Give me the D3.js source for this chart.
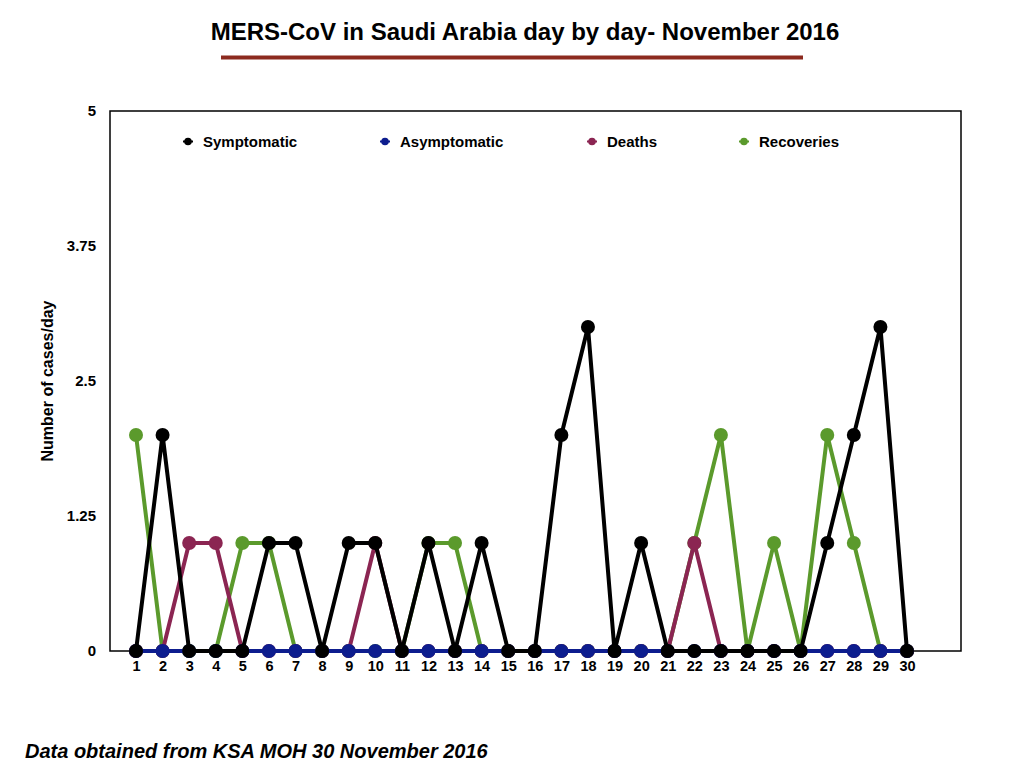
<!DOCTYPE html>
<html>
<head>
<meta charset="utf-8">
<script src="https://cdn.jsdelivr.net/npm/d3@7"></script>
<style>
  body { margin: 0; background: #fff; }
  svg { display: block; font-family: "Liberation Sans", Arial, sans-serif; }
</style>
</head>
<body>
<div id="chart-area"></div>
<script>
var days = d3.range(1, 31);
var yTicks = [0, 1.25, 2.5, 3.75, 5];

var symptomatic  = [0,2,0,0,0,1,1,0,1,1,0,1,0,1,0,0,2,3,0,1,0,0,0,0,0,0,1,2,3,0];
var asymptomatic = [0,0,0,0,0,0,0,0,0,0,0,0,0,0,0,0,0,0,0,0,0,0,0,0,0,0,0,0,0,0];
var deaths       = [0,0,1,1,0,0,0,0,0,1,0,0,0,0,0,0,0,0,0,0,0,1,0,0,0,0,0,0,0,0];
var recoveries   = [2,0,0,0,1,1,0,0,0,0,0,1,1,0,0,0,0,0,0,0,0,1,2,0,1,0,2,1,0,0];

var seriesNames  = ["Symptomatic", "Asymptomatic", "Deaths", "Recoveries"];
var seriesColors = ["#000000", "#0d1d8e", "#8b2552", "#5b9a2c"];
var seriesValues = [symptomatic, asymptomatic, deaths, recoveries];

var margin = { top: 111, right: 63, bottom: 117, left: 110 };
var W = 1024, H = 768;
var width = W - margin.left - margin.right;
var height = H - margin.top - margin.bottom;

var svg = d3.select("#chart-area")
    .append("svg")
    .attr("width", W)
    .attr("height", H);

// title + underline
svg.append("text")
    .attr("x", 525)
    .attr("y", 40)
    .attr("text-anchor", "middle")
    .attr("font-size", "24px")
    .attr("font-weight", "bold")
    .attr("fill", "#000")
    .text("MERS-CoV in Saudi Arabia day by day- November 2016");

svg.append("line")
    .attr("x1", 221).attr("x2", 803)
    .attr("y1", 57.5).attr("y2", 57.5)
    .attr("stroke", "#8c2a1f")
    .attr("stroke-width", 4);

var g = svg.append("g")
    .attr("transform", `translate(${margin.left}, ${margin.top})`);

var x = d3.scaleLinear()
    .domain([1, 30])
    .range([26, 797]);

var y = d3.scaleLinear()
    .domain([0, 5])
    .range([height, 0]);

// frame
g.append("rect")
    .attr("width", width)
    .attr("height", height)
    .attr("fill", "none")
    .attr("stroke", "#000")
    .attr("stroke-width", 1.5);

var yAxis = g.append("g")
    .call(d3.axisLeft(y).tickValues(yTicks).tickSize(0).tickPadding(14)
        .tickFormat(d => d));
yAxis.select(".domain").remove();
yAxis.selectAll("text")
    .attr("font-size", "15px")
    .attr("font-weight", "bold")
    .attr("font-family", "Liberation Sans, Arial, sans-serif")
    .attr("fill", "#000");

var xAxis = g.append("g")
    .attr("transform", `translate(0, ${height})`)
    .call(d3.axisBottom(x).tickValues(days).tickSize(0).tickPadding(10)
        .tickFormat(d3.format("d")));
xAxis.select(".domain").remove();
xAxis.selectAll("text")
    .attr("font-size", "14.5px")
    .attr("font-weight", "bold")
    .attr("font-family", "Liberation Sans, Arial, sans-serif")
    .attr("fill", "#000");

svg.append("text")
    .attr("transform", "rotate(-90)")
    .attr("x", -381)
    .attr("y", 53)
    .attr("text-anchor", "middle")
    .attr("font-size", "16px")
    .attr("font-weight", "bold")
    .attr("fill", "#000")
    .text("Number of cases/day");

// series, drawn last-to-first so Symptomatic is on top
var line = d3.line()
    .x((d, i) => x(days[i]))
    .y(d => y(d));

var order = [3, 2, 1, 0];
order.forEach(function (k) {
    var s = g.append("g").attr("class", "series");
    s.append("path")
        .datum(seriesValues[k])
        .attr("d", line)
        .attr("fill", "none")
        .attr("stroke", seriesColors[k])
        .attr("stroke-width", 4)
        .attr("stroke-linejoin", "round");
    s.selectAll("circle")
        .data(seriesValues[k])
        .enter()
        .append("circle")
        .attr("cx", (d, i) => x(days[i]))
        .attr("cy", d => y(d))
        .attr("r", 7)
        .attr("fill", seriesColors[k]);
});

// legend
var legendX = [188, 385, 592, 744];
var legend = svg.append("g");
seriesNames.forEach(function (name, k) {
    var lg = legend.append("g")
        .attr("transform", `translate(${legendX[k]}, 141.5)`);
    lg.append("line")
        .attr("x1", -5).attr("x2", 5)
        .attr("stroke", seriesColors[k])
        .attr("stroke-width", 2);
    lg.append("circle")
        .attr("r", 3.8)
        .attr("fill", seriesColors[k]);
    lg.append("text")
        .attr("x", 15)
        .attr("y", 5.5)
        .attr("font-size", "15px")
        .attr("font-weight", "bold")
        .attr("fill", "#000")
        .text(name);
});

svg.append("text")
    .attr("x", 25)
    .attr("y", 758)
    .attr("font-size", "20px")
    .attr("font-weight", "bold")
    .attr("font-style", "italic")
    .attr("fill", "#000")
    .text("Data obtained from KSA MOH 30 November 2016");
</script>
</body>
</html>
